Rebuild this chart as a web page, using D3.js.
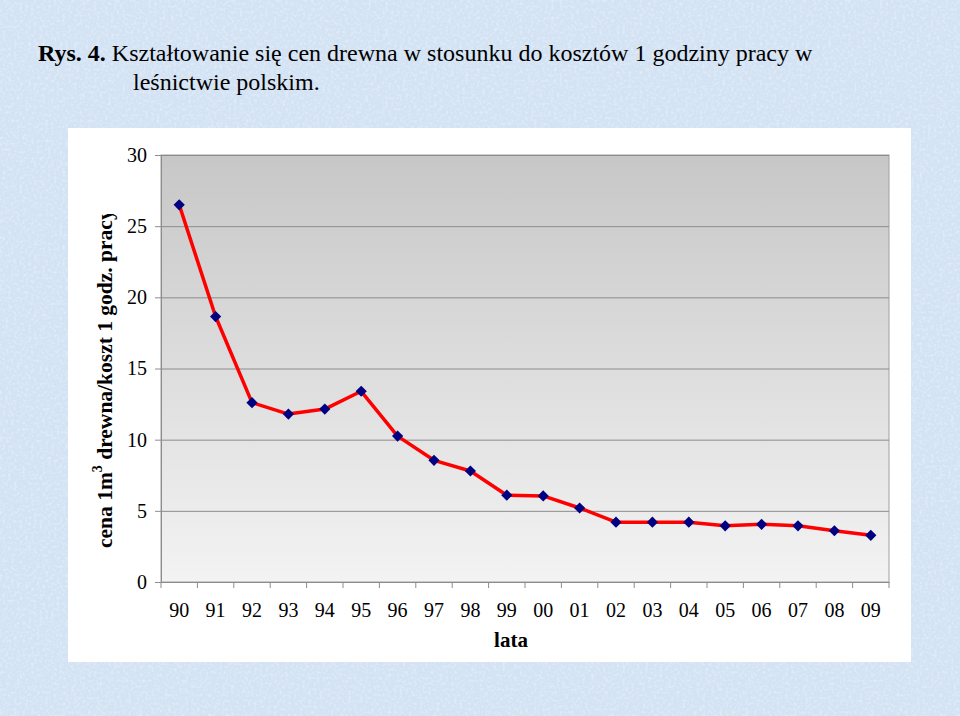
<!DOCTYPE html>
<html>
<head>
<meta charset="utf-8">
<script src="https://cdn.jsdelivr.net/npm/d3@7"></script>
<style>
  body { margin: 0; background: #d8e6f5; }
  svg { display: block; }
</style>
</head>
<body>
<div id="chart"></div>
<script>
// data
var years = ["90","91","92","93","94","95","96","97","98","99","00","01","02","03","04","05","06","07","08","09"];
var ratio = [26.5, 18.65, 12.6, 11.8, 12.15, 13.4, 10.25, 8.55, 7.8, 6.1, 6.05, 5.2, 4.2, 4.2, 4.2, 3.95, 4.05, 3.95, 3.6, 3.28];
var yTicks = [0, 5, 10, 15, 20, 25, 30];

var W = 960, H = 716;
var serif = "'Liberation Serif', 'Times New Roman', serif";
var svg = d3.select("#chart").append("svg")
  .attr("width", W).attr("height", H);

var defs = svg.append("defs");
var grad = defs.append("linearGradient").attr("id", "plotbg")
  .attr("x1", 0).attr("y1", 0).attr("x2", 0).attr("y2", 1);
grad.append("stop").attr("offset", "0%").attr("stop-color", "#c7c7c7");
grad.append("stop").attr("offset", "100%").attr("stop-color", "#f3f3f3");

defs.append("clipPath").attr("id", "lblclip")
  .append("rect").attr("x", 80).attr("y", 214).attr("width", 50).attr("height", 350);

// paper texture for the blue background
var tex = defs.append("filter").attr("id", "paper")
  .attr("x", 0).attr("y", 0).attr("width", "100%").attr("height", "100%");
tex.append("feTurbulence").attr("type", "fractalNoise")
  .attr("baseFrequency", 0.35).attr("numOctaves", 2).attr("seed", 4).attr("result", "n");
tex.append("feColorMatrix").attr("in", "n").attr("type", "matrix")
  .attr("values", "0 0 0 0 1  0 0 0 0 1  0 0 0 0 1  0 0 0 1.6 -0.75");

svg.append("rect").attr("width", W).attr("height", H).attr("fill", "#d4e3f4");
svg.append("rect").attr("width", W).attr("height", H).attr("filter", "url(#paper)").attr("opacity", 0.55);

// title
var title = svg.append("text")
  .attr("x", 38).attr("y", 61)
  .style("font-family", serif)
  .style("font-size", "24px").attr("fill", "#000");
title.append("tspan").style("font-weight", "bold").text("Rys. 4.");
title.append("tspan").text(" Kształtowanie się cen drewna w stosunku do kosztów 1 godziny pracy w");
svg.append("text")
  .attr("x", 133).attr("y", 90)
  .style("font-family", serif)
  .style("font-size", "24px").attr("fill", "#000")
  .text("leśnictwie polskim.");

// white chart box
svg.append("rect").attr("x", 68).attr("y", 128).attr("width", 843).attr("height", 534).attr("fill", "#ffffff");

var margin = {left: 161, top: 155, right: 889, bottom: 582};

var x = d3.scaleBand().domain(years).range([margin.left, margin.right]);
var y = d3.scaleLinear().domain([0, 30]).range([margin.bottom, margin.top]);

// plot area
svg.append("rect")
  .attr("x", margin.left).attr("y", margin.top)
  .attr("width", margin.right - margin.left).attr("height", margin.bottom - margin.top)
  .attr("fill", "url(#plotbg)")
  .attr("stroke", "#a0a0a0").attr("stroke-width", 1);

// gridlines
svg.append("g").selectAll("line").data(yTicks.slice(1))
  .enter().append("line")
  .attr("x1", margin.left).attr("x2", margin.right)
  .attr("y1", function(d){ return y(d) + 0.5; })
  .attr("y2", function(d){ return y(d) + 0.5; })
  .attr("stroke", "#8c8c8c").attr("stroke-width", 1);

// y axis
var yAxis = svg.append("g")
  .attr("transform", "translate(" + margin.left + ",0)")
  .call(d3.axisLeft(y).tickValues(yTicks).tickSize(6).tickPadding(8));
yAxis.select(".domain").attr("stroke", "#8c8c8c");
yAxis.selectAll(".tick line").attr("stroke", "#8c8c8c");
yAxis.selectAll(".tick text")
  .style("font-family", serif)
  .style("font-size", "20px").attr("fill", "#000");

// x axis
var xAxis = svg.append("g")
  .attr("transform", "translate(0," + margin.bottom + ")")
  .call(d3.axisBottom(x).tickSize(0).tickPadding(21));
xAxis.select(".domain").attr("stroke", "#8c8c8c");
xAxis.selectAll(".tick text")
  .style("font-family", serif)
  .style("font-size", "20px").attr("fill", "#000");
// ticks between categories
svg.append("g").selectAll("line").data(years.concat(["end"]))
  .enter().append("line")
  .attr("x1", function(d, i){ return margin.left + i * x.step(); })
  .attr("x2", function(d, i){ return margin.left + i * x.step(); })
  .attr("y1", margin.bottom).attr("y2", margin.bottom + 6)
  .attr("stroke", "#8c8c8c");

// axis titles
svg.append("text")
  .attr("x", 511).attr("y", 647).attr("text-anchor", "middle")
  .style("font-family", serif)
  .style("font-size", "21px").style("font-weight", "bold")
  .text("lata");

var ylab = svg.append("g").attr("clip-path", "url(#lblclip)")
  .append("text")
  .attr("transform", "translate(112,548) rotate(-90)")
  .style("font-family", serif)
  .style("font-size", "21.5px").style("font-weight", "bold");
ylab.append("tspan").text("cena 1m");
ylab.append("tspan").attr("dy", -10).style("font-size", "14px").text("3");
ylab.append("tspan").attr("dy", 10).text(" drewna/koszt 1 godz. pracy");

// line
var line = d3.line()
  .x(function(d, i){ return x(years[i]) + x.bandwidth() / 2; })
  .y(function(d){ return y(d); });
svg.append("path").datum(ratio)
  .attr("d", line)
  .attr("fill", "none").attr("stroke", "#ff0000").attr("stroke-width", 3.5)
  .attr("stroke-linejoin", "round");

// markers
svg.append("g").selectAll("path").data(ratio)
  .enter().append("path")
  .attr("d", d3.symbol().type(d3.symbolDiamond2).size(80))
  .attr("transform", function(d, i){
    return "translate(" + (x(years[i]) + x.bandwidth() / 2) + "," + y(d) + ")";
  })
  .attr("fill", "#000080");
</script>
</body>
</html>
